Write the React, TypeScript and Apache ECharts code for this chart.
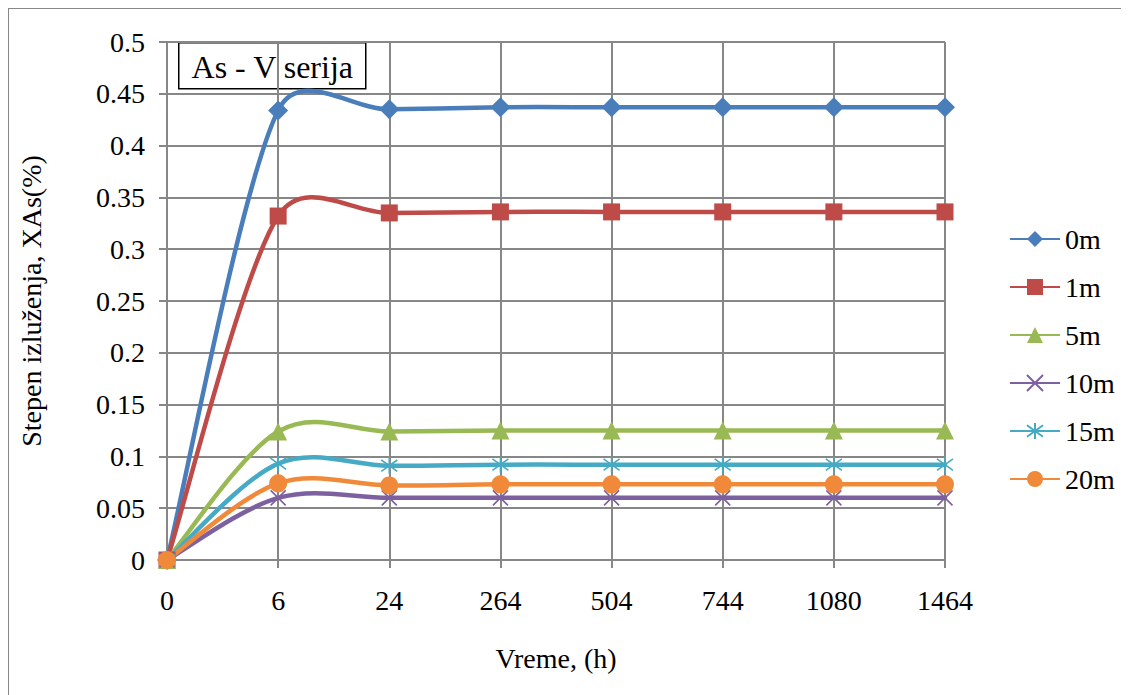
import React, { useEffect, useRef } from "react";
import * as echarts from "echarts";

const categories = ["0", "6", "24", "264", "504", "744", "1080", "1464"];
const s0m = [0, 0.434, 0.435, 0.437, 0.437, 0.437, 0.437, 0.437];
const s1m = [0, 0.332, 0.335, 0.336, 0.336, 0.336, 0.336, 0.336];
const s5m = [0, 0.124, 0.124, 0.125, 0.125, 0.125, 0.125, 0.125];
const s10m = [0, 0.06, 0.06, 0.06, 0.06, 0.06, 0.06, 0.06];
const s15m = [0, 0.093, 0.091, 0.092, 0.092, 0.092, 0.092, 0.092];
const s20m = [0, 0.074, 0.072, 0.073, 0.073, 0.073, 0.073, 0.073];
const seriesNames = ["0m", "1m", "5m", "10m", "15m", "20m"];
const titleText = "As - V serija";
const xName = "Vreme, (h)";
const yName = "Stepen izluženja, XAs(%)";

const FONT = "Times New Roman, Liberation Serif, serif";
const colors = ["#4A7EBB", "#BE4B48", "#98B954", "#7D60A0", "#46AAC5", "#F08A3A"];
const symbols = [
  "diamond",
  "rect",
  "triangle",
  "path://M0,0L10,10M10,0L0,10",
  "path://M0,0L10,10M10,0L0,10M5,-2L5,12",
  "circle",
];
const symbolSizes = [20, 17, 18, 15, 16, 18];

// Excel-like smoothed bezier path through pixel points
function smoothPath(pts: number[][]): string {
  const n = pts.length;
  const outCp: number[][] = [];
  const inCp: number[][] = [];
  for (let i = 0; i < n; i++) {
    const p = pts[i];
    const prev = pts[i - 1] || p;
    const next = pts[i + 1] || p;
    const vx = next[0] - prev[0];
    const vy = next[1] - prev[1];
    const dPrev = Math.hypot(p[0] - prev[0], p[1] - prev[1]);
    const dNext = Math.hypot(next[0] - p[0], next[1] - p[1]);
    const sum = dPrev + dNext || 1;
    const fo = Math.min(1 / 6, (0.5 * dNext) / sum);
    const fi = Math.min(1 / 6, (0.5 * dPrev) / sum);
    outCp.push([p[0] + vx * fo, p[1] + vy * fo]);
    inCp.push([p[0] - vx * fi, p[1] - vy * fi]);
  }
  let d = `M${pts[0][0]},${pts[0][1]}`;
  for (let i = 1; i < n; i++) {
    const a = outCp[i - 1];
    const b = inCp[i];
    const p = pts[i];
    d += ` C${a[0]},${a[1]} ${b[0]},${b[1]} ${p[0]},${p[1]}`;
  }
  return d;
}

export default function App() {
  const ref = useRef<HTMLDivElement>(null);
  useEffect(() => {
    if (!ref.current) return;
    const chart = echarts.init(ref.current, null, { renderer: "svg" });
    const data = [s0m, s1m, s5m, s10m, s15m, s20m];
    const curveSeries = data.map((d, i) => ({
      type: "custom",
      id: "curve" + i,
      coordinateSystem: "cartesian2d",
      silent: true,
      z: 2,
      encode: { x: 0, y: 1 },
      data: d.map((v, k) => [k, v]),
      renderItem: (params: any, api: any) => {
        if (params.dataIndex !== 0) return null;
        const pts = d.map((v, k) => api.coord([k, v]));
        return {
          type: "path",
          shape: { pathData: smoothPath(pts) },
          style: {
            fill: "none",
            stroke: colors[i],
            lineWidth: 4.5,
            lineJoin: "round",
            lineCap: "round",
          },
          z2: i,
        };
      },
    }));
    const markerSeries = data.map((d, i) => {
      const isPath = symbols[i].startsWith("path://");
      return {
        name: seriesNames[i],
        type: "line",
        data: d,
        symbol: symbols[i],
        symbolSize: symbolSizes[i],
        showAllSymbol: true,
        lineStyle: { color: colors[i], width: 4.5, opacity: 0 },
        itemStyle: isPath
          ? { color: colors[i], borderColor: colors[i], borderWidth: 1.6 }
          : { color: colors[i] },
        emphasis: { disabled: true },
        z: 3 + i,
      };
    });
    chart.setOption({
      animation: false,
      textStyle: { fontFamily: FONT },
      grid: { left: 156, top: 33, right: 184, bottom: 135, containLabel: false },
      xAxis: {
        type: "category",
        data: categories,
        boundaryGap: false,
        name: xName,
        nameLocation: "middle",
        nameGap: 84,
        nameTextStyle: { fontFamily: FONT, fontSize: 28, color: "#000" },
        axisLine: { show: true, lineStyle: { color: "#878787", width: 2 } },
        axisTick: { show: true, length: 8, inside: false, lineStyle: { color: "#878787", width: 2 } },
        axisLabel: { fontFamily: FONT, fontSize: 28, color: "#000", margin: 26 },
        splitLine: { show: true, lineStyle: { color: "#878787", width: 2 } },
      },
      yAxis: {
        type: "value",
        min: 0,
        max: 0.5,
        interval: 0.05,
        name: yName,
        nameLocation: "middle",
        nameRotate: 90,
        nameGap: 122,
        nameTextStyle: { fontFamily: FONT, fontSize: 28, color: "#000" },
        axisLine: { show: true, lineStyle: { color: "#878787", width: 2 } },
        axisTick: { show: true, length: 8, inside: false, lineStyle: { color: "#878787", width: 2 } },
        axisLabel: {
          fontFamily: FONT,
          fontSize: 28,
          color: "#000",
          margin: 22,
          formatter: (v: number) => String(parseFloat(v.toFixed(2))),
        },
        splitLine: { show: true, lineStyle: { color: "#878787", width: 2 } },
      },
      legend: {
        orient: "vertical",
        left: 995,
        top: 211,
        itemWidth: 50,
        itemHeight: 20,
        itemGap: 20,
        lineStyle: { opacity: 1 },
        textStyle: { fontFamily: FONT, fontSize: 28, color: "#000", lineHeight: 28 },
        data: seriesNames,
      },
      graphic: [
        {
          type: "group",
          left: 169,
          top: 33,
          z: 100,
          children: [
            {
              type: "rect",
              shape: { x: 0, y: 0, width: 187, height: 46 },
              style: { fill: "#fff", stroke: "#000", lineWidth: 1.5 },
            },
            {
              type: "text",
              x: 93.5,
              y: 24,
              style: {
                text: titleText,
                fontFamily: FONT,
                fontSize: 32,
                fill: "#000",
                align: "center",
                verticalAlign: "middle",
              },
            },
          ],
        },
      ],
      series: [...curveSeries, ...markerSeries],
    });
    return () => chart.dispose();
  }, []);
  return (
    <div
      style={{
        width: 1121,
        height: 687,
        borderLeft: "1px solid #888",
        borderTop: "1px solid #888",
        boxSizing: "border-box",
        background: "#fff",
      }}
    >
      <div ref={ref} style={{ width: 1120, height: 686 }} />
    </div>
  );
}
